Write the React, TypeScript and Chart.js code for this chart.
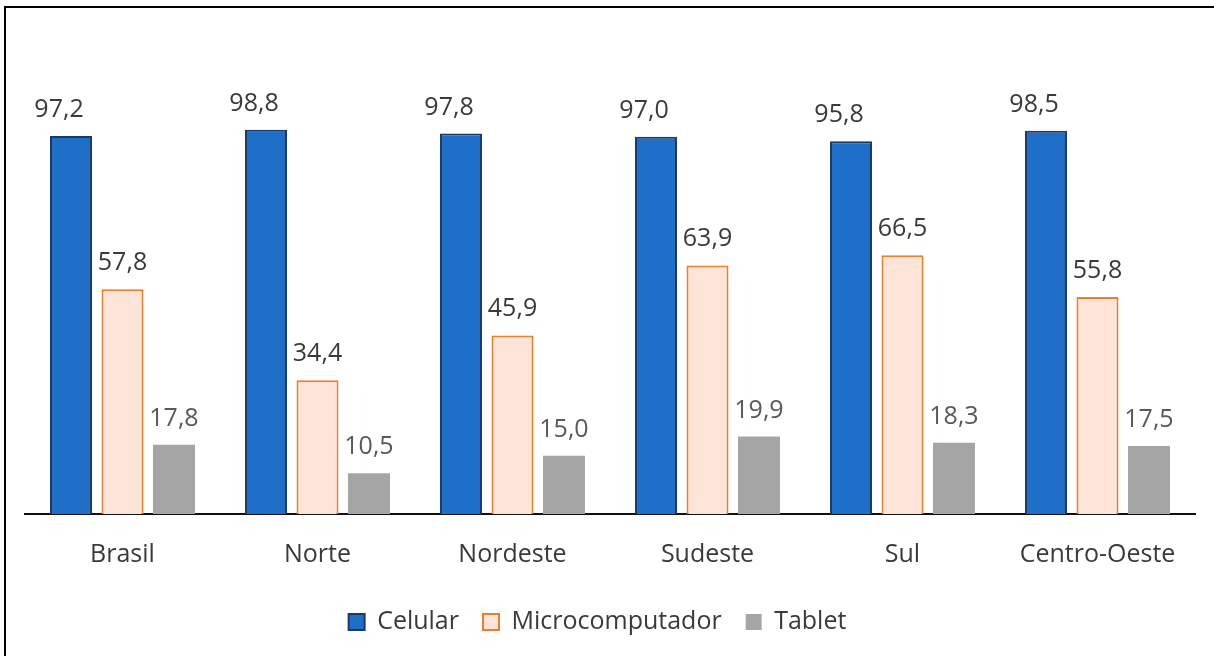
import React, { useEffect, useRef } from "react";
import { Chart, registerables } from "chart.js";

Chart.register(...registerables);

const categories = ["Brasil", "Norte", "Nordeste", "Sudeste", "Sul", "Centro-Oeste"];
const seriesNames = ["Celular", "Microcomputador", "Tablet"];
const celular = [97.2, 98.8, 97.8, 97.0, 95.8, 98.5];
const microcomputador = [57.8, 34.4, 45.9, 63.9, 66.5, 55.8];
const tablet = [17.8, 10.5, 15.0, 19.9, 18.3, 17.5];

const FONT = '"Open Sans", sans-serif';
const FONT_SIZE = 25;

const valueLabels = {
  id: "valueLabels",
  afterDatasetsDraw(chart: any) {
    const ctx = chart.ctx;
    ctx.save();
    ctx.font = `${FONT_SIZE}px ${FONT}`;
    ctx.textAlign = "center";
    ctx.textBaseline = "alphabetic";
    chart.data.datasets.forEach((ds: any, di: number) => {
      const meta = chart.getDatasetMeta(di);
      ctx.fillStyle = di === 2 ? "#595959" : "#3a3a3a";
      const dx = di === 0 ? -12 : 0;
      meta.data.forEach((bar: any, i: number) => {
        const v = ds.data[i] as number;
        const text = v.toFixed(1).replace(".", ",");
        ctx.fillText(text, bar.x + dx, bar.y - 19);
      });
    });
    ctx.restore();
  },
};

const legendShift = {
  id: "legendShift",
  afterLayout(chart: any) {
    const l = chart.legend;
    if (l) {
      l.left -= 12.5;
      l.right -= 12.5;
    }
  },
};

export default function App() {
  const ref = useRef<HTMLCanvasElement | null>(null);

  useEffect(() => {
    if (!ref.current) return;
    const chart = new Chart(ref.current, {
      type: "bar",
      data: {
        labels: categories,
        datasets: [
          {
            label: seriesNames[0],
            data: celular,
            backgroundColor: "#1E6FC8",
            borderColor: "#1F3864",
            borderWidth: 2,
          },
          {
            label: seriesNames[1],
            data: microcomputador,
            backgroundColor: "#FCE4D6",
            borderColor: "#ED7D31",
            borderWidth: 2,
          },
          {
            label: seriesNames[2],
            data: tablet,
            backgroundColor: "#A5A5A5",
            borderColor: "#A5A5A5",
            borderWidth: 0,
          },
        ],
      },
      options: {
        responsive: false,
        animation: false,
        devicePixelRatio: 1,
        layout: { padding: { left: 25, right: 19, top: 125, bottom: 11.5 } },
        datasets: {
          bar: { categoryPercentage: 0.792, barPercentage: 0.816 },
        } as any,
        scales: {
          x: {
            grid: { display: false, drawTicks: false },
            border: { display: true, color: "#111111", width: 2 },
            ticks: {
              color: "#3a3a3a",
              font: { family: FONT, size: FONT_SIZE },
              padding: 26,
              maxRotation: 0,
              autoSkip: false,
            },
            afterFit: (scale: any) => {
              scale.height = 71.5;
            },
          },
          y: {
            display: false,
            min: 0,
            max: 100,
          },
        },
        plugins: {
          legend: {
            position: "bottom",
            labels: {
              boxWidth: 16,
              boxHeight: 16,
              padding: 24,
              color: "#3a3a3a",
              font: { family: FONT, size: FONT_SIZE },
            },
          },
          tooltip: { enabled: false },
        },
      },
      plugins: [valueLabels, legendShift],
    });
    return () => chart.destroy();
  }, []);

  return (
    <div
      style={{
        position: "fixed",
        left: 0,
        top: 0,
        width: 1214,
        height: 656,
        background: "#ffffff",
        overflow: "hidden",
      }}
    >
      <div
        style={{
          position: "absolute",
          left: 4,
          top: 6,
          width: 1300,
          height: 700,
          borderTop: "2px solid #000",
          borderLeft: "2px solid #000",
          boxSizing: "border-box",
        }}
      />
      <canvas
        ref={ref}
        width={1214}
        height={656}
        style={{ position: "absolute", left: 0, top: 0 }}
      />
    </div>
  );
}
